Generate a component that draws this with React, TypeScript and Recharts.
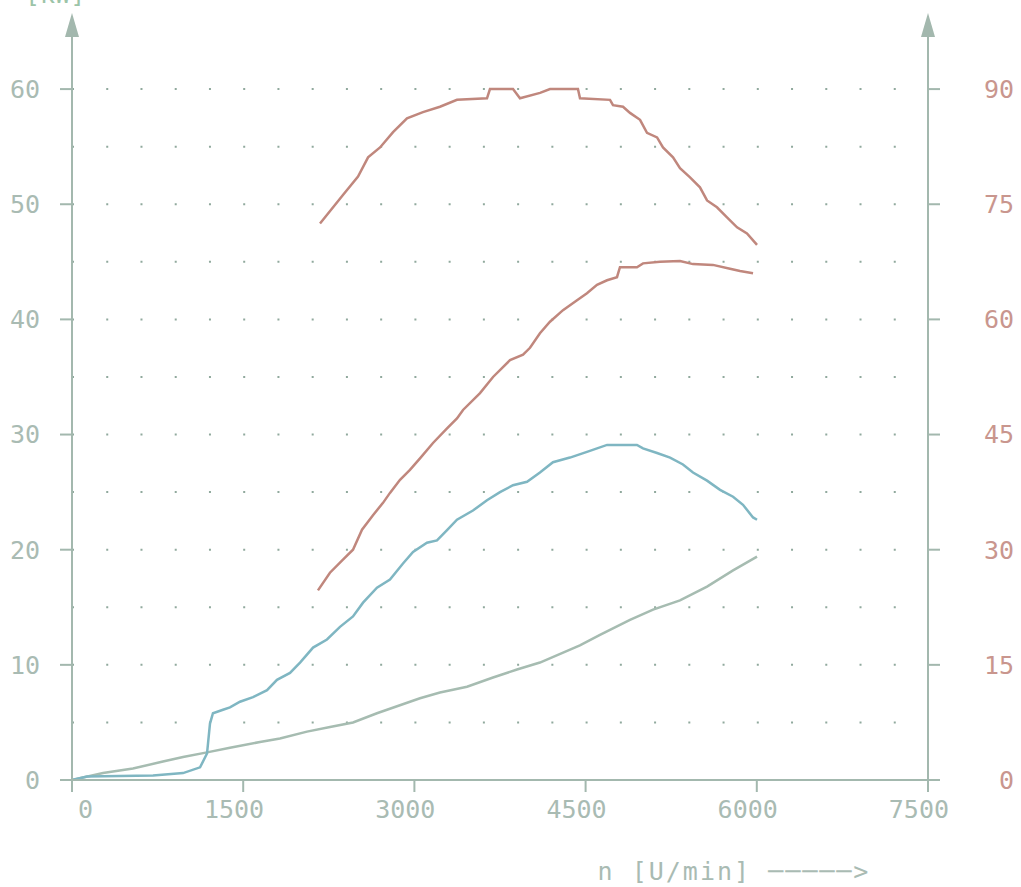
import React from 'react'
import {
  LineChart,
  Line,
  XAxis,
  YAxis,
  ReferenceLine,
  ReferenceDot,
} from 'recharts'

// engine speed [U/min] and the four measured curves
const torqueHighRpm = [2173, 2374, 2506, 2594, 2699, 2813, 2935, 3075, 3224, 3373, 3636, 3662, 3864, 3925, 4101, 4188, 4276, 4433, 4451, 4714, 4740, 4828, 4889, 4977, 5038, 5126, 5178, 5266, 5327, 5415, 5502, 5564, 5651, 5739, 5827, 5914, 6002]
const torqueHighNm  = [72.5, 76.2, 78.6, 81.1, 82.4, 84.4, 86.2, 87.0, 87.7, 88.6, 88.8, 90.0, 90.0, 88.8, 89.5, 90.0, 90.0, 90.0, 88.8, 88.6, 87.9, 87.7, 86.9, 86.0, 84.3, 83.7, 82.4, 81.1, 79.7, 78.5, 77.2, 75.5, 74.6, 73.3, 72.0, 71.2, 69.7]

const torqueLowRpm = [2155, 2260, 2374, 2462, 2541, 2637, 2725, 2786, 2874, 2961, 3049, 3163, 3286, 3373, 3426, 3575, 3689, 3838, 3952, 4013, 4100, 4188, 4302, 4425, 4512, 4600, 4688, 4775, 4801, 4950, 5003, 5152, 5327, 5441, 5616, 5765, 5853, 5967]
const torqueLowNm  = [24.7, 27.0, 28.7, 30.0, 32.6, 34.5, 36.1, 37.4, 39.1, 40.4, 41.9, 43.9, 45.8, 47.1, 48.2, 50.4, 52.5, 54.7, 55.4, 56.3, 58.2, 59.7, 61.2, 62.5, 63.4, 64.5, 65.1, 65.5, 66.8, 66.8, 67.3, 67.5, 67.6, 67.2, 67.1, 66.6, 66.3, 66.0]

const powerHighRpm = [0, 131, 710, 973, 1122, 1183, 1192, 1209, 1235, 1323, 1384, 1472, 1586, 1709, 1796, 1910, 1998, 2112, 2234, 2348, 2462, 2550, 2672, 2786, 2900, 2988, 3110, 3198, 3286, 3373, 3513, 3636, 3750, 3864, 3987, 4100, 4214, 4363, 4512, 4688, 4950, 5003, 5126, 5240, 5353, 5441, 5564, 5678, 5792, 5879, 5967, 6002]
const powerHighKw  = [0, 0.3, 0.4, 0.6, 1.1, 2.3, 3.2, 4.9, 5.8, 6.1, 6.3, 6.8, 7.2, 7.8, 8.7, 9.3, 10.2, 11.5, 12.2, 13.3, 14.2, 15.4, 16.7, 17.4, 18.8, 19.8, 20.6, 20.8, 21.7, 22.6, 23.4, 24.3, 25.0, 25.6, 25.9, 26.7, 27.6, 28.0, 28.5, 29.1, 29.1, 28.8, 28.4, 28.0, 27.4, 26.7, 26.0, 25.2, 24.6, 23.9, 22.8, 22.6]

const powerLowRpm = [0, 272, 534, 797, 973, 1183, 1384, 1647, 1822, 2059, 2261, 2462, 2672, 3049, 3224, 3461, 3689, 3899, 4100, 4450, 4626, 4889, 5091, 5327, 5564, 5792, 6002]
const powerLowKw  = [0, 0.6, 1.0, 1.6, 2.0, 2.4, 2.8, 3.3, 3.6, 4.2, 4.6, 5.0, 5.8, 7.1, 7.6, 8.1, 8.9, 9.6, 10.2, 11.7, 12.6, 13.9, 14.8, 15.6, 16.8, 18.2, 19.4]

const xTicks     = [0, 1500, 3000, 4500, 6000, 7500]
const leftTicks  = [0, 10, 20, 30, 40, 50, 60]
const rightTicks = [0, 15, 30, 45, 60, 75, 90]
const gridRows   = [5, 10, 15, 20, 25, 30, 35, 40, 45, 50, 55, 60]

const toPoints = (rpm: number[], vals: number[]) => rpm.map((n, i) => ({ rpm: n, v: vals[i] }))

const AXIS   = '#a3b8ae'
const LABEL  = '#a9bbb3'
const RED    = '#c0877d'
const REDTXT = '#c9968e'
const BLUE   = '#7fb6c2'
const GREY   = '#a6bcb1'
const FONT   = '"DejaVu Sans Mono", monospace'

function Arrow(props: any) {
  const { cx, cy } = props
  if (cx == null || cy == null) return null
  return <polygon points={`${cx},${cy - 7} ${cx - 7},${cy + 17} ${cx + 7},${cy + 17}`} fill={AXIS} />
}

function XTitle(props: any) {
  const vb = props.viewBox
  if (!vb) return null
  return (
    <text x={vb.x + vb.width * 0.614} y={vb.y + 100} fill={LABEL} fontFamily={FONT} fontSize={25} letterSpacing={2}>
      n [U/min] ─────&gt;
    </text>
  )
}

export default function App() {
  return (
    <div style={{ position: 'absolute', left: 0, top: 0, width: 1021, height: 887, overflow: 'hidden', background: '#fff' }}>
      <div style={{ position: 'absolute', left: 25, top: -20, color: '#9cc4a8', fontFamily: FONT, fontSize: 25, lineHeight: '30px' }}>
        [kW]
      </div>
      <LineChart width={1021} height={887} margin={{ top: 20, right: 0, bottom: 0, left: 0 }}>
        <XAxis
          type="number"
          dataKey="rpm"
          domain={[0, 7500]}
          ticks={xTicks}
          height={107}
          stroke={AXIS}
          strokeWidth={2}
          tickSize={12}
          tickMargin={8}
          tick={{ fill: LABEL, fontSize: 25, fontFamily: FONT, textAnchor: 'end', dx: 21 }}
          label={<XTitle />}
        />
        <YAxis
          yAxisId="left"
          domain={[0, 66]}
          ticks={leftTicks}
          width={72}
          stroke={AXIS}
          strokeWidth={2}
          tickSize={12}
          tickMargin={20}
          tick={{ fill: LABEL, fontSize: 25, fontFamily: FONT }}
        />
        <YAxis
          yAxisId="right"
          orientation="right"
          domain={[0, 99]}
          ticks={rightTicks}
          width={93}
          stroke={AXIS}
          strokeWidth={2}
          tickSize={12}
          tickMargin={74}
          tick={{ fill: REDTXT, fontSize: 25, fontFamily: FONT, textAnchor: 'end' }}
        />
        {gridRows.map(r => (
          <ReferenceLine key={r} yAxisId="left" y={r} stroke="#90a99d" strokeWidth={2} strokeDasharray="2 32.24" />
        ))}
        <ReferenceDot yAxisId="left" x={0} y={66} ifOverflow="visible" shape={<Arrow />} />
        <ReferenceDot yAxisId="right" x={7500} y={99} ifOverflow="visible" shape={<Arrow />} />
        <Line yAxisId="left" data={toPoints(powerLowRpm, powerLowKw)} dataKey="v" type="linear" stroke={GREY} strokeWidth={2.5} dot={false} isAnimationActive={false} />
        <Line yAxisId="left" data={toPoints(powerHighRpm, powerHighKw)} dataKey="v" type="linear" stroke={BLUE} strokeWidth={2.5} dot={false} isAnimationActive={false} />
        <Line yAxisId="right" data={toPoints(torqueLowRpm, torqueLowNm)} dataKey="v" type="linear" stroke={RED} strokeWidth={2.5} dot={false} isAnimationActive={false} />
        <Line yAxisId="right" data={toPoints(torqueHighRpm, torqueHighNm)} dataKey="v" type="linear" stroke={RED} strokeWidth={2.5} dot={false} isAnimationActive={false} />
      </LineChart>
    </div>
  )
}
